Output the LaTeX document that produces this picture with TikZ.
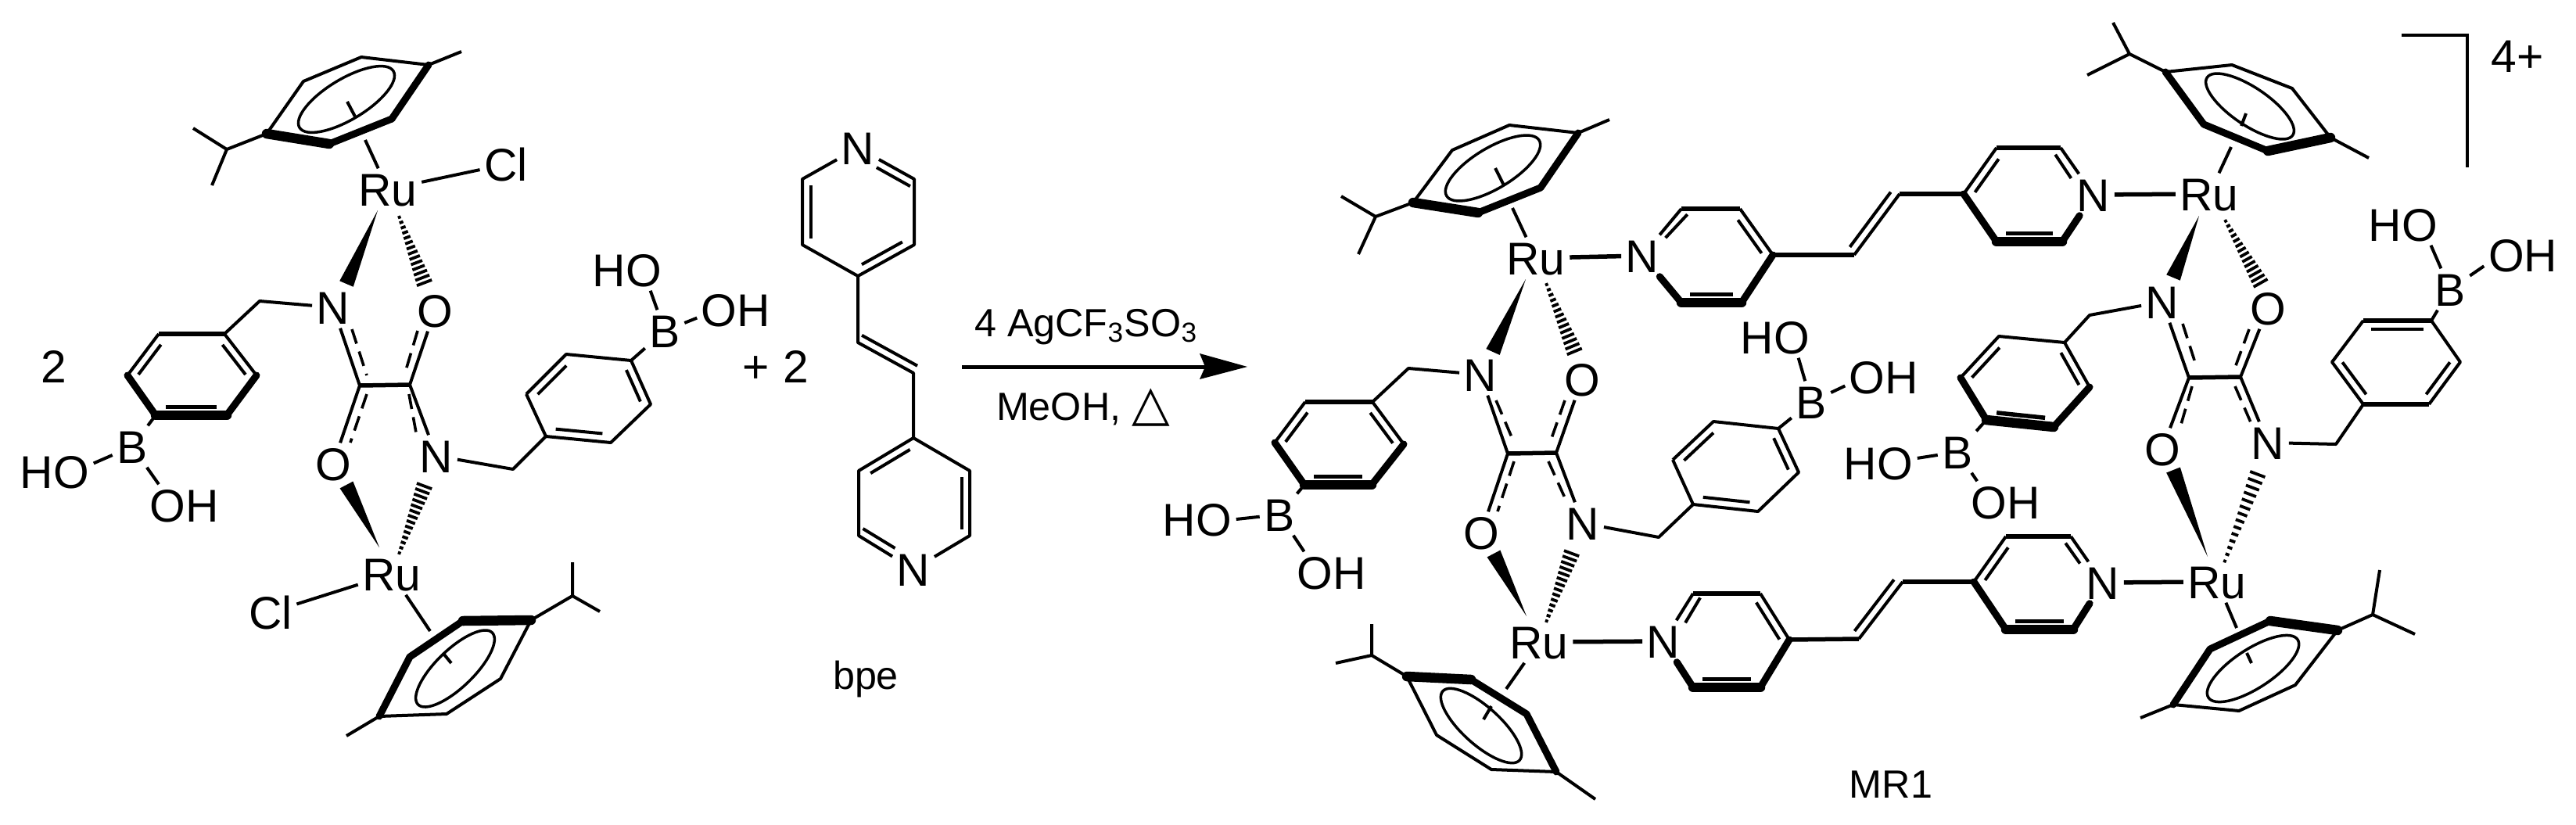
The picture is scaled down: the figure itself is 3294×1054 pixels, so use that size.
\documentclass[tikz,border=0pt]{standalone}
\usepackage{fontspec}
\setmainfont{Liberation Sans}
\newfontfamily\dejavufont{DejaVu Sans}
\usetikzlibrary{calc,shapes.geometric}
\newcommand\atomfont{\fontsize{16.7pt}{20pt}\selectfont}
\newcommand\labelfont{\fontsize{14.3pt}{18pt}\selectfont}
\tikzset{
  bond/.style={line width=0.04cm,line join=round},
  midb/.style={line width=0.055cm,line join=round},
  boldb/.style={line width=0.09cm,line join=round,line cap=round},
  heavy/.style={line width=0.125cm,line join=round,line cap=round},
  dashb/.style={line width=0.036cm,dash pattern=on 5.5pt off 3pt},
  atom/.style={font=\atomfont,inner sep=0.05cm,text height=0.42cm,text depth=0pt},
  lab/.style={font=\labelfont,inner sep=0pt,anchor=base},
  etaring/.style={draw,ellipse,line width=0.035cm,inner sep=0pt},
}
% inner line of a double bond, a->b runs clockwise round the ring
\newcommand\inner[4][bond]{\draw[#1] ($(#2)!#4!(#3)!0.105cm!-90:(#3)$) -- ($(#3)!#4!(#2)!0.105cm!90:(#2)$);}
% wedge: tip, base
\newcommand\wedgeb[2]{\fill ($(#2)!0.095cm!90:(#1)$) -- (#1) -- ($(#2)!0.095cm!-90:(#1)$) -- cycle;}
% hashed wedge: start, end
\newcommand\hashb[2]{\foreach \tq in {0.02,0.09,...,0.99}{\pgfmathsetmacro\dq{\tq*2.6+0.5}
  \draw[line width=0.038cm] ($(#1)!\tq!(#2)!\dq pt!90:(#2)$) -- ($(#1)!\tq!(#2)!\dq pt!-90:(#2)$);}}
\begin{document}
\begin{tikzpicture}[x=0.01cm,y=-0.01cm]
\path[fill=white,use as bounding box] (0,0) rectangle (3294,1054);
% ---------- atoms
\foreach \n/\t/\x/\y in {
 ru1/Ru/496/242, cl1/Cl/647/210, n1/N/426/393, o1/O/556/397, o2/O/426/593, n2/N/558/583, ru2/Ru/501/734, cl2/Cl/346/783,
 b1/B/169/571, ho1/HO/70/603, oh1/OH/236/646, b2/B/850/423, ho2/HO/802/345, oh2/OH/941/396,
 nb1/N/1097/189, nb2/N/1168/728,
 ru3/Ru/1964/330, n3/N/2100/327, n4/N/1893/479, o3/O/2023/485, o4/O/1894/681, n5/N/2024/669, ru4/Ru/1968/821, n6/N/2127/820,
 b3/B/1636/658, ho3/HO/1531/664, oh3/OH/1703/732,
 ru5/Ru/2835/744, n7/N/2689/745, o5/O/2765/574, n8/N/2900/566, ru6/Ru/2825/248, n9/N/2677/249, n10/N/2765/386, o6/O/2900/394,
 b7/B/2316/514, ho7/HO/2270/431, oh7/OH/2409/482,
 b6/B/2503/578, ho6/HO/2402/592, oh6/OH/2565/642,
 b8/B/3133/370, ho8/HO/3073/287, oh8/OH/3226/326,
 two1/2/69/468, plus/+/967/468, two2/2/1018/468, charge/4+/3219/71}
  \node[atom] (\n) at (\x,\y) {\t};
% ---------- text labels
\node[lab] (reag1) at (1389,430) {4 AgCF\textsubscript{3}SO\textsubscript{3}};
\node[lab] (reag2) at (1385,537) {MeOH, {\dejavufont\fontsize{18pt}{20pt}\selectfont △}};
\node[lab] (bpe) at (1107,881) {bpe};
\node[lab] (mr) at (2418,1020) {MR1};
% ---------- vertices
\foreach \n/\x/\y in {
 % unit 1, arene 1
 a1/548/83, a2/462/73, a3/388/104, a4/341/171, a5/421/184, a6/501/152, am/590/66, ai/290/191, ai1/247/164, ai2/271/237,
 s1a/467/179, s1b/444/130, s1c/454/149, w1t/483/269, w1b/443/363, h1s/510/276, h1e/545/368,
 % ring P
 ptl/203/427, ptr/287/427, pr/328/480, pbr/290/531, pbl/199/531, pl/163/480, ch1/332/385,
 % oxalamide 1
 c1/460/493, c2/524/492, w2t/485/700, w2b/443/620, h2s/510/709, h2e/545/615,
 % ring Q
 qtr/807/461, qtl/724/453, ql/673/504, qbl/698/558, qbr/781/566, qr/832/517, ch2/656/600,
 % arene 2
 e1/679/793, e2/592/794, e3/524/840, e4/485/916, e5/571/913, e6/640/868, em/443/941, ei/732/762, ei1/732/719, ei2/767/782,
 s2a/550/807, s2b/568/837, s2c/577/848,
 % bpe
 ul/1026/229, ull/1026/313, ub/1097/353, urr/1169/313, ur/1169/229, nb1r/1126/205,
 v1/1097/438, v2/1168/477, lt/1168/560, ltr/1240/602, lbr/1240/685, lbl/1098/685, ltl/1098/602, nb2l/1139/710,
 % arrow
 ar1/1230/469, ar2/1595/469, ar3/1534/452, ar4/1541/469, ar5/1534/485,
 % arene 3
 f1/2018/170, f2/1930/160, f3/1857/192, f4/1807/259, f5/1890/272, f6/1970/240, fm/2058/153, fi/1759/277, fi1/1715/251, fi2/1737/325,
 s3a/1934/266, s3b/1912/215, s3c/1923/237, w3t/1951/357, w3b/1909/450, h3s/1977/362, h3e/2016/456,
 % ring H
 htl/1669/514, htr/1755/514, hr/1795/568, hbr/1754/620, hbl/1668/620, hl/1630/566, ch3/1801/471,
 % oxalamide 2
 c3/1928/580, c4/1990/579, w4t/1952/788, w4b/1910/708, h4s/1977/796, h4e/2012/701,
 % ring I
 itl/2191/539, itr/2274/548, ir/2300/604, ibr/2248/654, ibl/2165/645, il/2139/588, ch4/2121/687,
 % arene 4
 g1/1799/865, g2/1881/869, g3/1952/913, g4/1990/987, g5/1907/984, g6/1837/940, gm/2040/1022, gi/1754/838, gi1/1754/798, gi2/1708/848,
 s4a/1926/881, s4b/1907/903, s4c/1897/920,
 % ring A + chain + ring B
 atl/2150/267, atr/2225/267, ar/2267/326, abr/2227/387, abl/2150/387, nA/2122/297,
 k1/2371/326, k2/2429/248, bl/2511/248, btl/2553/189, btr/2635/189, bbr/2637/309, bbl/2553/309, nB/2659/225,
 % ring C + chain + ring D
 ctl/2165/759, ctr/2251/759, cr/2288/818, cbr/2251/879, cbl/2165/879, nC/2146/791,
 d1/2377/817, d2/2433/744, dl/2524/744, dtl/2565/686, dtr/2648/686, dbr/2651/805, dbl/2565/805, nD/2670/717,
 % arene 5 (lower right)
 j1/2989/806, j2/2903/794, j3/2826/830, j4/2779/901, j5/2863/909, j6/2935/876, jm/2737/918, ji/3034/786, ji1/3043/729, ji2/3088/811,
 s5a/2860/803, s5b/2873/835, s5c/2879/848, w5t/2823/712, w5b/2779/601, h5s/2844/720, h5e/2890/598,
 % arene 6 (upper right)
 l1/2769/92, l2/2854/83, l3/2931/113, l4/2980/176, l5/2900/193, l6/2818/159, lm/3029/202, li/2723/69, li1/2702/29, li2/2669/96,
 s6a/2853/188, s6b/2872/145, s6c/2866/161, w6t/2812/276, w6b/2779/355, h6s/2845/281, h6e/2894/368,
 % oxalamide 3
 c5/2799/483, c6/2865/482,
 % ring G
 gtr/2640/438, gtl/2556/430, gl/2507/483, gbl/2540/537, gbr/2626/546, gr/2672/495, ch5/2672/403,
 % ring F
 mtr/3109/410, mtl/3022/410, ml/2982/463, mbl/3022/517, mbr/3106/517, mr/3146/463, ch6/2987/568,
 % bracket
 br1/3071/45, br2/3155/45, br3/3155/214}
  \coordinate (\n) at (\x,\y);
% ---------- unit 1: arene + Ru
\draw[bond] (a4) -- (a3) -- (a2) -- (a1) -- (am);
\draw[boldb] (a1) -- (a6);\draw[boldb] (a6) -- (a5);\draw[heavy] (a5) -- (a4);
\draw[bond] (a4) -- (ai) -- (ai1) (ai) -- (ai2);
\node[etaring,minimum width=1.40cm,minimum height=0.52cm,rotate=31] (el1) at (443,127) {};
\draw[bond] (ru1) -- (s1a) (s1b) -- (s1c);
\draw[bond] (ru1) -- (cl1);
\wedgeb{w1t}{w1b}\hashb{h1s}{h1e}
% ring P
\draw[bond] (pl) -- (ptl) (ptr) -- (pr);
\draw[midb] (ptl) -- (ptr);
\draw[boldb] (pr) -- (pbr) (pbl) -- (pl);\draw[heavy] (pbr) -- (pbl);
\inner{pl}{ptl}{.14}\inner{ptr}{pr}{.14}\inner[midb]{pbr}{pbl}{.14}
\draw[bond] (ptr) -- (ch1) -- (n1);
\draw[bond] (pbl) -- (b1) (b1) -- (ho1.12) (b1) -- (oh1.141);
% oxalamide 1
\draw[bond] (n1) -- (c1) (o1) -- (c2) (c1) -- (o2) (c2) -- (n2);
\draw[midb] (c1) -- (c2);
\draw[dashb] (450,421) -- (469,480);\draw[dashb] (534,423) -- (517,480);\draw[dashb] (469,504) -- (448,566);\draw[dashb] (523,504) -- (532,553);
\wedgeb{w2t}{w2b}\hashb{h2s}{h2e}
% ring Q
\draw[bond] (ql) -- (qtl) -- (qtr) -- (qr) -- (qbr) -- (qbl) -- (ql);
\inner{ql}{qtl}{.14}\inner{qtr}{qr}{.14}\inner{qbr}{qbl}{.14}
\draw[bond] (qbl) -- (ch2) -- (n2);
\draw[bond] (qtr) -- (b2) (b2) -- (ho2.-42) (b2) -- (oh2.192);
% arene 2
\draw[bond] (ru2) -- (cl2) (ru2) -- (s2a) (s2b) -- (s2c);
\draw[heavy] (e1) -- (e2);\draw[boldb] (e2) -- (e3) -- (e4);
\draw[bond] (e4) -- (e5) -- (e6) -- (e1) -- (ei) -- (ei1) (ei) -- (ei2) (e4) -- (em);
\node[etaring,minimum width=1.32cm,minimum height=0.48cm,rotate=44] (el2) at (582,855) {};
% ---------- bpe
\draw[bond] (nb1) -- (ul) -- (ull) -- (ub) -- (urr) -- (ur) -- (nb1);
\inner{nb1r}{ur}{.0}\inner{urr}{ub}{.14}\inner{ull}{ul}{.10}
\draw[bond] (ub) -- (v1) -- (v2) -- (lt);
\inner{v2}{v1}{.0}
\draw[bond] (lt) -- (ltr) -- (lbr) -- (nb2) -- (lbl) -- (ltl) -- (lt);
\inner{ltl}{lt}{.14}\inner{ltr}{lbr}{.10}\inner{nb2l}{lbl}{.0}
% ---------- arrow
\draw[line width=0.05cm] (ar1) -- (ar4);
\fill (ar2) -- (ar3) -- (ar4) -- (ar5) -- cycle;
% ---------- arene 3
\draw[bond] (f4) -- (f3) -- (f2) -- (f1) -- (fm);
\draw[boldb] (f1) -- (f6) -- (f5);\draw[heavy] (f5) -- (f4);
\draw[bond] (f4) -- (fi) -- (fi1) (fi) -- (fi2);
\node[etaring,minimum width=1.38cm,minimum height=0.52cm,rotate=31] (el3) at (1909,215) {};
\draw[bond] (ru3) -- (s3a) (s3b) -- (s3c);
\draw[midb] (ru3) -- (n3);
\wedgeb{w3t}{w3b}\hashb{h3s}{h3e}
% ring H
\draw[bond] (hl) -- (htl) (htr) -- (hr);
\draw[midb] (htl) -- (htr);
\draw[boldb] (hr) -- (hbr) (hbl) -- (hl);\draw[heavy] (hbr) -- (hbl);
\inner{hl}{htl}{.14}\inner{htr}{hr}{.14}\inner[midb]{hbr}{hbl}{.14}
\draw[bond] (htr) -- (ch3) -- (n4);
\draw[bond] (hbl) -- (b3) (b3) -- (ho3.east) (b3) -- (oh3.143);
% oxalamide 2
\draw[bond] (n4) -- (c3) (o3) -- (c4) (c3) -- (o4) (c4) -- (n5);
\draw[midb] (c3) -- (c4);
\draw[dashb] (1913,512) -- (1936,566);\draw[dashb] (2001,512) -- (1982,566);\draw[dashb] (1936,590) -- (1915,654);\draw[dashb] (1980,590) -- (2003,641);
\wedgeb{w4t}{w4b}\hashb{h4s}{h4e}
% ring I
\draw[bond] (il) -- (itl) -- (itr) -- (ir) -- (ibr) -- (ibl) -- (il);
\inner{il}{itl}{.14}\inner{itr}{ir}{.14}\inner{ibr}{ibl}{.14}
\draw[bond] (ibl) -- (ch4) -- (n5);
\draw[bond] (itr) -- (b7) (b7) -- (ho7.-42) (b7) -- (oh7.193);
% arene 4
\draw[bond] (ru4) -- (s4a) (s4b) -- (s4c);
\draw[midb] (ru4) -- (n6);
\draw[heavy] (g1) -- (g2);\draw[boldb] (g2) -- (g3) -- (g4);
\draw[bond] (g4) -- (g5) -- (g6) -- (g1) -- (gi) -- (gi1) (gi) -- (gi2) (g4) -- (gm);
\node[etaring,minimum width=1.32cm,minimum height=0.48cm,rotate=-42] (el4) at (1894,928) {};
% ---------- ring A, chain, ring B
\draw[bond] (n3) -- (atl) (atr) -- (ar);
\draw[midb] (atl) -- (atr);
\draw[boldb] (ar) -- (abr) (abl) -- (n3);\draw[heavy] (abr) -- (abl);
\inner{nA}{atl}{.0}\inner{atr}{ar}{.14}\inner[midb]{abr}{abl}{.14}
\draw[midb] (ar) -- (k1);
\draw[bond] (k1) -- (k2);\inner{k2}{k1}{.05}
\draw[midb] (k2) -- (bl);
\draw[bond] (bl) -- (btl) (btr) -- (n9);
\draw[midb] (btl) -- (btr);
\draw[boldb] (bl) -- (bbl) (bbr) -- (n9);\draw[heavy] (bbl) -- (bbr);
\inner{bl}{btl}{.14}\inner{btr}{nB}{.08}\inner[midb]{bbr}{bbl}{.14}
% ---------- ring C, chain, ring D
\draw[bond] (n6) -- (ctl) (ctr) -- (cr);
\draw[midb] (ctl) -- (ctr);
\draw[boldb] (cr) -- (cbr) (cbl) -- (n6);\draw[heavy] (cbr) -- (cbl);
\inner{nC}{ctl}{.0}\inner{ctr}{cr}{.10}\inner[midb]{cbr}{cbl}{.14}
\draw[midb] (cr) -- (d1);
\draw[bond] (d1) -- (d2);\inner{d2}{d1}{.05}
\draw[midb] (d2) -- (dl);
\draw[bond] (dl) -- (dtl) (dtr) -- (n7);
\draw[midb] (dtl) -- (dtr);
\draw[boldb] (dl) -- (dbl) (dbr) -- (n7);\draw[heavy] (dbl) -- (dbr);
\inner{dl}{dtl}{.14}\inner{dtr}{nD}{.08}\inner[midb]{dbr}{dbl}{.14}
% ---------- arene 5
\draw[midb] (n7) -- (ru5);
\draw[bond] (ru5) -- (s5a) (s5b) -- (s5c);
\draw[heavy] (j1) -- (j2);\draw[boldb] (j2) -- (j3) -- (j4);
\draw[bond] (j4) -- (j5) -- (j6) -- (j1) -- (ji) -- (ji1) (ji) -- (ji2) (j4) -- (jm);
\node[etaring,minimum width=1.36cm,minimum height=0.50cm,rotate=33] (el5) at (2881,855) {};
\wedgeb{w5t}{w5b}\hashb{h5s}{h5e}
% ---------- arene 6
\draw[midb] (n9) -- (ru6);
\draw[bond] (ru6) -- (s6a) (s6b) -- (s6c);
\draw[boldb] (l1) -- (l6) -- (l5);\draw[heavy] (l5) -- (l4);
\draw[bond] (l1) -- (l2) -- (l3) -- (l4) -- (lm) (l1) -- (li) -- (li1) (li) -- (li2);
\node[etaring,minimum width=1.32cm,minimum height=0.48cm,rotate=-34] (el6) at (2877,136) {};
\wedgeb{w6t}{w6b}\hashb{h6s}{h6e}
% oxalamide 3
\draw[bond] (n10) -- (c5) (o6) -- (c6) (c5) -- (o5) (c6) -- (n8);
\draw[midb] (c5) -- (c6);
\draw[dashb] (2791,414) -- (2809,470);\draw[dashb] (2876,421) -- (2858,470);\draw[dashb] (2803,494) -- (2788,546);\draw[dashb] (2858,494) -- (2878,540);
% ring G
\draw[bond] (gl) -- (gtl) -- (gtr) -- (gr);
\draw[boldb] (gr) -- (gbr) (gbl) -- (gl);\draw[heavy] (gbr) -- (gbl);
\inner{gl}{gtl}{.14}\inner{gtr}{gr}{.14}\inner[midb]{gbr}{gbl}{.14}
\draw[bond] (gtr) -- (ch5) -- (n10);
\draw[bond] (gbl) -- (b6) (b6) -- (ho6.7) (b6) -- (oh6.144);
% ring F
\draw[bond] (mtr) -- (mr) -- (mbr) (mbl) -- (ml) -- (mtl);
\draw[midb] (mtl) -- (mtr) (mbr) -- (mbl);
\inner{mtl}{mtr}{.12}\inner{mr}{mbr}{.12}\inner{mbl}{ml}{.12}
\draw[bond] (mbl) -- (ch6) -- (n8);
\draw[bond] (mtr) -- (b8) (b8) -- (ho8.-37) (b8) -- (oh8.196);
% ---------- bracket
\draw[line width=0.045cm] (br1) -- (br2) -- (br3);
\end{tikzpicture}
\end{document}
